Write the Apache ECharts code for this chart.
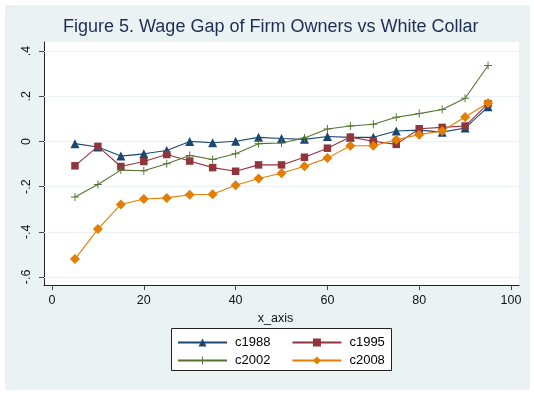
<!DOCTYPE html>
<html><head><meta charset="utf-8">
<script src="https://cdn.jsdelivr.net/npm/echarts@6/dist/echarts.min.js"></script>
<style>html,body{margin:0;padding:0;background:#fff}#c{width:534px;height:394px}</style>
</head><body><div id="c"></div>
<script>
const titleText = 'Figure 5. Wage Gap of Firm Owners vs White Collar';
const xName = 'x_axis';
const xValues = [5,10,15,20,25,30,35,40,45,50,55,60,65,70,75,80,85,90,95];
const c1988 = [-0.010,-0.025,-0.065,-0.055,-0.040,0.000,-0.006,0.001,0.018,0.013,0.009,0.022,0.018,0.018,0.046,0.050,0.041,0.059,0.153];
const c1995 = [-0.108,-0.022,-0.111,-0.089,-0.058,-0.087,-0.116,-0.132,-0.104,-0.104,-0.070,-0.030,0.019,0.001,-0.013,0.056,0.062,0.068,0.167];
const c2002 = [-0.246,-0.191,-0.127,-0.130,-0.099,-0.062,-0.080,-0.055,-0.010,-0.007,0.015,0.055,0.068,0.076,0.107,0.123,0.141,0.191,0.336];
const c2008 = [-0.521,-0.388,-0.279,-0.255,-0.250,-0.236,-0.234,-0.194,-0.164,-0.141,-0.110,-0.074,-0.019,-0.019,0.007,0.030,0.046,0.108,0.170];
const seriesNames = ['c1988','c1995','c2002','c2008'];
const xTicks = [0,20,40,60,80,100];
const yTicks = [-0.6,-0.4,-0.2,0,0.2,0.4];
const yTickLabels = ['-.6','-.4','-.2','0','.2','.4'];

const FONT = 'Liberation Sans, Arial, Helvetica, sans-serif';
const colors = ['#1a476f','#90353b','#55752f','#e37e00'];
const plusPath = 'path://M4.4,0H5.6V4.4H10V5.6H5.6V10H4.4V5.6H0V4.4H4.4Z';
const symbols = ['triangle','rect',plusPath,'diamond'];
const sizes = [9,7.5,8,10];
const allData = [c1988,c1995,c2002,c2008];

const chart = echarts.init(document.getElementById('c'), null, {renderer:'canvas'});
const series = seriesNames.map((n,i)=>({
  name:n, type:'line', z:3,
  data: xValues.map((x,j)=>[x, allData[i][j]]),
  symbol: symbols[i], symbolSize: sizes[i], showSymbol:true,
  lineStyle:{color:colors[i], width:1.1},
  itemStyle:{color:colors[i]},
  animation:false
}));
series.unshift({
  name:'grid', type:'line', data:[], silent:true, animation:false,
  markLine:{z:1, silent:true, animation:false, symbol:['none','none'], label:{show:false},
    lineStyle:{color:'#eaf2f3', width:1, type:'solid'},
    emphasis:{disabled:true},
    data: yTicks.map(v=>({yAxis:v}))}
});
const legendCommon = {
  padding:0, itemWidth:49, itemHeight:10, itemGap:21,
  textStyle:{fontSize:13, color:'#000', fontFamily:FONT, padding:[0,0,0,3]},
  selectedMode:false
};
chart.setOption({
  backgroundColor:'#fff',
  animation:false,
  title:{text:titleText, left:63, top:18, padding:0,
    textStyle:{fontSize:18, fontWeight:'normal', color:'#1f2d54', fontFamily:FONT}},
  graphic:[
    {type:'rect', z:-10, shape:{x:5,y:5,width:525,height:385}, style:{fill:'#eaf2f3'}},
    {type:'rect', z:-5, shape:{x:171.5,y:328.5,width:220,height:42}, style:{fill:'#fff', stroke:'#222', lineWidth:1}}
  ],
  legend:[
    Object.assign({data:['c1988','c1995'], left:177, top:336}, legendCommon),
    Object.assign({data:['c2002','c2008'], left:177, top:354}, legendCommon)
  ],
  grid:{left:44, right:15, top:42, bottom:109, show:true, backgroundColor:'#fff', borderWidth:0, containLabel:false},
  xAxis:{type:'value', min:-1.743, max:101.74,
    name:xName, nameLocation:'middle', nameGap:23,
    nameTextStyle:{fontSize:12.5, color:'#111', fontFamily:FONT, padding:[0,12,0,0]},
    axisLine:{show:true, onZero:false, lineStyle:{color:'#222', width:1}},
    axisTick:{show:true, length:5, customValues:xTicks, lineStyle:{color:'#444'}},
    axisLabel:{customValues:xTicks, fontSize:12.5, color:'#111', fontFamily:FONT, margin:9},
    splitLine:{show:false}},
  yAxis:{type:'value', min:-0.6356, max:0.44,
    axisLine:{show:true, onZero:false, lineStyle:{color:'#222', width:1}},
    axisTick:{show:true, length:5, customValues:yTicks, lineStyle:{color:'#444'}},
    axisLabel:{customValues:yTicks, rotate:90, fontSize:12.5, color:'#111', fontFamily:FONT, margin:11,
      formatter:(v)=>{let k=0,b=1e9;yTicks.forEach((t,i)=>{if(Math.abs(t-v)<b){b=Math.abs(t-v);k=i;}});return yTickLabels[k];}},
    splitLine:{show:false}},
  series:series
});
</script></body></html>
